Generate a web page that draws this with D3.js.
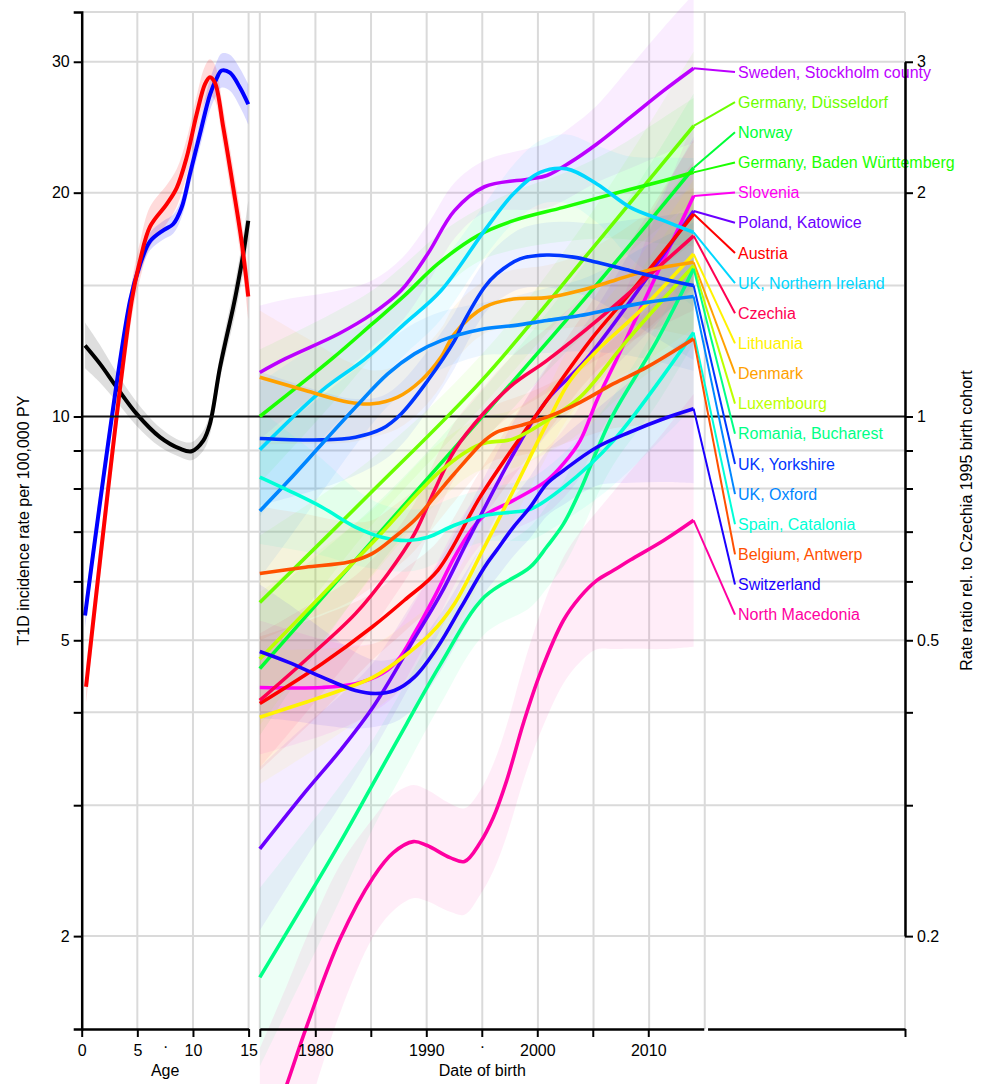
<!DOCTYPE html>
<html>
<head>
<meta charset="utf-8">
<script src="https://cdn.jsdelivr.net/npm/d3@7"></script>
<style>
  body { margin: 0; background: #fff; }
  text { font-family: "Liberation Sans", Arial, Helvetica, sans-serif; }
</style>
</head>
<body>
<svg id="chart" width="982" height="1084"></svg>
<script>
// ---- age panel: incidence per 100,000 PY by age ----
const ageBlue = [[0.3, 5.40], [4.34, 14.3], [5.24, 16.0], [6.14, 17.2], [7.33, 17.8], [8.23, 18.15], [8.98, 19.1],
  [9.73, 21.2], [10.63, 24.0], [11.53, 27.1], [12.13, 28.5], [12.58, 29.2], [13.32, 29.0], [14.22, 27.7], [14.97, 26.3]];
const ageRed = [[0.39, 4.33], [4.49, 14.3], [5.24, 16.2], [6.14, 18.0], [7.64, 19.3], [8.54, 20.3], [9.43, 22.3],
  [10.33, 25.5], [11.08, 28.0], [11.53, 28.6], [11.98, 28.1], [12.72, 24.5], [13.62, 20.3], [14.37, 17.2], [14.97, 14.5]];
const ageBlack = [[0.3, 12.46], [1.65, 11.77], [3.14, 10.95], [4.94, 10.08], [7.03, 9.38], [8.83, 9.05], [9.88, 8.98],
  [10.93, 9.28], [11.53, 9.78], [12.43, 11.64], [13.62, 14.03], [13.92, 14.77], [14.52, 16.55], [14.97, 18.34]];
// CI half widths (log10) at these ages
const ageCiKnots = [0, 3, 6, 9, 12, 15];
const ageCiBlue = [0.02, 0.012, 0.012, 0.013, 0.022, 0.027];
const ageCiRed = [0.025, 0.02, 0.027, 0.025, 0.024, 0.03];
const ageCiBlack = [0.032, 0.02, 0.014, 0.011, 0.015, 0.027];

// ---- birth cohort panel: incidence by date of birth ----
const sweden = [[1975, 11.46], [1977.3, 11.96], [1982.1, 12.92], [1985.1, 13.74], [1987.7, 14.77], [1990.1, 16.55], [1992.5, 18.92],
  [1995.2, 20.37], [1999.3, 20.87], [2000.8, 21.09], [2002.9, 21.97], [2005.3, 23.26], [2008.3, 25.25], [2011.3, 27.43], [2014, 29.4]];
const dusseldorf = [[1975, 5.62], [1985, 7.9], [1995, 11.2], [2005, 16.9], [2014, 24.6]];
const norway = [[1975, 4.58], [1985, 6.77], [1995, 10.0], [2005, 14.87], [2014, 21.6]];
const badenWurttemberg = [[1975, 10.0], [1981.5, 11.96], [1985.1, 13.32], [1988.0, 14.54], [1991.0, 16.04], [1994.6, 17.51],
  [1997.8, 18.34], [2002.3, 19.11], [2006.8, 19.93], [2011.3, 20.76], [2014, 21.3]];
const slovenia = [[1975, 4.32], [1980.6, 4.32], [1983.6, 4.37], [1986.0, 4.51], [1987.4, 4.70], [1988.9, 5.11], [1990.7, 5.72],
  [1992.5, 6.47], [1994.0, 7.03], [1995.2, 7.36], [1997.8, 7.71], [2000.8, 8.20], [2002.3, 8.64], [2003.8, 9.28], [2005.3, 10.51],
  [2007.1, 11.96], [2014, 19.8]];
const poland = [[1975, 2.62], [1979.2, 3.14], [1982.2, 3.55], [1985.2, 4.07], [1988.8, 5.0], [1991.3, 5.78], [1993.7, 6.81],
  [1997.8, 8.91], [2000.8, 10.51], [2004.4, 11.96], [2014, 18.9]];
const austria = [[1975, 4.11], [1980.6, 4.65], [1985.1, 5.21], [1988.0, 5.66], [1991.0, 6.21], [1994.8, 7.79], [1997.8, 9.09],
  [2000.8, 10.51], [2004.7, 12.65], [2008.3, 14.66], [2014, 18.72]];
const ukNorthernIreland = [[1975, 9.02], [1980.6, 10.84], [1984.5, 11.96], [1988.0, 13.32], [1991.3, 14.77], [1995.2, 17.78],
  [1997.8, 19.93], [2000.2, 21.3], [2002.6, 21.53], [2005.3, 20.55], [2008.3, 19.11], [2011.3, 18.34], [2014, 17.69]];
const czechia = [[1975, 4.15], [1979.1, 4.70], [1983.6, 5.43], [1986.5, 6.14], [1988.9, 6.95], [1990.7, 7.95], [1992.5, 9.0],
  [1995.2, 10.13], [1997.8, 11.06], [2000.8, 11.89], [2005.6, 13.57], [2014, 17.5]];
const lithuania = [[1975, 3.94], [1979.2, 4.13], [1982.2, 4.28], [1985.2, 4.46], [1988.3, 4.80], [1990.4, 5.11], [1992.5, 5.60],
  [1995.2, 6.68], [1997.8, 7.95], [2000.8, 9.78], [2002.9, 11.18], [2005.3, 12.26], [2009.2, 13.88], [2014, 16.54]];
const denmark = [[1975, 11.29], [1979.1, 10.84], [1983.0, 10.45], [1985.1, 10.40], [1987.4, 10.62], [1989.5, 11.18], [1991.3, 12.02],
  [1992.5, 12.92], [1995.2, 14.03], [1997.8, 14.39], [2000.8, 14.45], [2003.8, 14.77], [2006.8, 15.23], [2009.8, 15.71], [2014, 16.12]];
const luxembourg = [[1975, 4.72], [1985, 6.73], [1991.3, 8.46], [1994.8, 9.17], [1997.8, 9.33], [2000.8, 9.88], [2003.8, 10.62],
  [2008.0, 12.65], [2014, 15.95]];
const romania = [[1975, 1.76], [1979.2, 2.24], [1982.2, 2.67], [1985.2, 3.21], [1988.2, 3.86], [1991.2, 4.63], [1995.2, 5.72],
  [1999.3, 6.27], [2000.8, 6.68], [2002.3, 7.17], [2003.8, 7.95], [2005.3, 9.0], [2006.8, 10.08], [2010.7, 12.65], [2014, 15.8]];
const ukYorkshire = [[1975, 9.34], [1980.6, 9.30], [1983.6, 9.38], [1986.0, 9.63], [1987.7, 10.08], [1990.1, 11.18], [1992.5, 12.65],
  [1993.4, 13.46], [1995.2, 14.92], [1996.3, 15.55], [1998.4, 16.29], [2000.8, 16.49], [2003.2, 16.38], [2005.3, 16.12], [2008.3, 15.71],
  [2011.3, 15.31], [2014, 15.0]];
const ukOxford = [[1975, 7.46], [1977.6, 8.20], [1980.6, 9.19], [1983.6, 10.29], [1986.5, 11.41], [1988.9, 12.14], [1991.3, 12.65],
  [1995.2, 13.12], [1997.8, 13.25], [2000.8, 13.46], [2003.8, 13.67], [2006.8, 13.96], [2009.8, 14.24], [2014, 14.5]];
const spain = [[1975, 8.29], [1977.6, 7.95], [1980.6, 7.55], [1983.6, 7.10], [1986.0, 6.88], [1988.3, 6.81], [1990.1, 6.88],
  [1992.5, 7.14], [1995.2, 7.36], [1997.8, 7.44], [1999.3, 7.5], [2002.3, 8.03], [2006.8, 9.28], [2014, 12.97]];
const belgium = [[1975, 6.15], [1979.1, 6.27], [1983.0, 6.37], [1985.1, 6.54], [1987.1, 6.88], [1988.9, 7.25], [1990.7, 7.79],
  [1992.5, 8.38], [1995.2, 9.28], [1996.3, 9.53], [1998.4, 9.72], [2000.8, 9.98], [2003.8, 10.45], [2006.8, 11.07], [2009.8, 11.65], [2014, 12.72]];
const switzerland = [[1975, 4.83], [1977.6, 4.67], [1980.6, 4.46], [1983.6, 4.28], [1985.4, 4.24], [1987.1, 4.28], [1988.9, 4.46],
  [1991.0, 4.90], [1993.1, 5.54], [1995.2, 6.27], [1996.3, 6.61], [1997.8, 7.10], [1999.3, 7.55], [2000.8, 8.12], [2002.3, 8.46],
  [2005.3, 9.09], [2008.3, 9.53], [2011.3, 9.93], [2014, 10.24]];
const northMacedonia = [[1975, 1.0], [1977.4, 1.26], [1979.2, 1.51], [1982.2, 1.98], [1985.2, 2.40], [1987, 2.59], [1988.8, 2.68],
  [1990, 2.65], [1992.1, 2.55], [1993.4, 2.52], [1994.8, 2.67], [1996, 2.89], [1997.2, 3.24], [1998.7, 3.87], [2000.2, 4.51],
  [2002.3, 5.32], [2003.8, 5.72], [2005.3, 6.02], [2006.8, 6.21], [2008.3, 6.41], [2011.3, 6.81], [2014, 7.25]];

// legend order (top to bottom) and series
const countryNames = ["Sweden, Stockholm county", "Germany, Düsseldorf", "Norway", "Germany, Baden Württemberg", "Slovenia",
  "Poland, Katowice", "Austria", "UK, Northern Ireland", "Czechia", "Lithuania", "Denmark", "Luxembourg", "Romania, Bucharest",
  "UK, Yorkshire", "UK, Oxford", "Spain, Catalonia", "Belgium, Antwerp", "Switzerland", "North Macedonia"];
const countrySeries = [sweden, dusseldorf, norway, badenWurttemberg, slovenia, poland, austria, ukNorthernIreland, czechia,
  lithuania, denmark, luxembourg, romania, ukYorkshire, ukOxford, spain, belgium, switzerland, northMacedonia];
const countryColors = ["#bc00ff", "#6bff00", "#00ff36", "#1bff00", "#ff00f2", "#6b00ff", "#ff0000", "#00d7ff", "#ff0051",
  "#fff200", "#ffa100", "#bcff00", "#00ff86", "#0036ff", "#0086ff", "#00ffd7", "#ff5000", "#1b00ff", "#ff00a1"];

// CI half widths (log10) at these birth years
const cohortCiKnots = [1975, 1985, 1995, 2005, 2014];
const cohortCiDefault = [0.09, 0.045, 0.035, 0.05, 0.1];
const cohortCiWide = {
  "North Macedonia": [0.15, 0.08, 0.07, 0.09, 0.17],
  "Romania, Bucharest": [0.12, 0.06, 0.05, 0.06, 0.1],
  "Poland, Katowice": [0.11, 0.06, 0.04, 0.05, 0.1]
};

const rateGrid = [2, 3, 4, 5, 6, 7, 8, 9, 15, 20, 30, 35];
const rateTicks = [2, 3, 4, 5, 6, 7, 8, 9, 10, 20, 30];
const rateLabels = [2, 5, 10, 20, 30];
const ratioTicks = [0.2, 0.3, 0.4, 0.5, 0.6, 0.7, 0.8, 0.9, 1, 2, 3];
const ratioLabels = [0.2, 0.5, 1, 2, 3];
const ageTicks = [0, 5, 7.5, 10, 15];
const yearTicks = [1975, 1980, 1985, 1990, 1995, 2000, 2005, 2010];
const yearLabels = { 1980: "1980", 1990: "1990", 1995: "·", 2000: "2000", 2010: "2010" };

// ---- scales ----
const ageX = d3.scaleLinear([0, 15], [81.7, 248.6]);
const yearX = d3.scaleLinear([1975, 2033], [259.8, 905]);
const y = d3.scaleLog([1.5, 35], [1029, 12]);
const ratioY = d3.scaleLog([0.2, 3], [y(2), y(30)]);

const svg = d3.select("#chart");
const grey = "#dadada";

// grid
const grid = svg.append("g");
grid.selectAll("line.h").data(rateGrid).join("line")
  .attr("x1", ageX(0)).attr("x2", yearX(2033))
  .attr("y1", d => y(d)).attr("y2", d => y(d))
  .attr("stroke", grey).attr("stroke-width", 2);
grid.selectAll("line.va").data([5, 10, 15]).join("line")
  .attr("x1", d => ageX(d)).attr("x2", d => ageX(d))
  .attr("y1", y(35)).attr("y2", y(1.5))
  .attr("stroke", grey).attr("stroke-width", 2);
grid.selectAll("line.vy").data(d3.range(1975, 2016, 5).concat([2033])).join("line")
  .attr("x1", d => yearX(d)).attr("x2", d => yearX(d))
  .attr("y1", y(35)).attr("y2", y(1.5))
  .attr("stroke", grey).attr("stroke-width", 2);

const curve = d3.curveCatmullRom.alpha(0.5);

function bandFor(data, xs, knots, widths) {
  const hw = d3.scaleLinear(knots, widths).clamp(true);
  return d3.area()
    .curve(curve)
    .x(d => xs(d[0]))
    .y0(d => y(d[1] * Math.pow(10, -hw(d[0]))))
    .y1(d => y(d[1] * Math.pow(10, hw(d[0]))))(data);
}

// age panel bands and lines
const ageSets = [
  { data: ageBlack, ci: ageCiBlack, color: "#000000", op: 0.13 },
  { data: ageBlue, ci: ageCiBlue, color: "#0000ff", op: 0.15 },
  { data: ageRed, ci: ageCiRed, color: "#ff0000", op: 0.14 }
];
const ageG = svg.append("g");
ageSets.forEach(s => {
  ageG.append("path").attr("d", bandFor(s.data, ageX, ageCiKnots, s.ci))
    .attr("fill", s.color).attr("fill-opacity", s.op).attr("stroke", "none");
});

// cohort bands
const bandG = svg.append("g");
countrySeries.forEach((s, i) => {
  const ci = cohortCiWide[countryNames[i]] || cohortCiDefault;
  bandG.append("path").attr("d", bandFor(s, yearX, cohortCiKnots, ci))
    .attr("fill", countryColors[i]).attr("fill-opacity", 0.07).attr("stroke", "none");
});

// reference line at rate 10 (ratio 1)
svg.append("line")
  .attr("x1", ageX(0)).attr("x2", yearX(2033))
  .attr("y1", y(10)).attr("y2", y(10))
  .attr("stroke", "#111").attr("stroke-width", 2);

// lines
ageSets.forEach(s => {
  ageG.append("path")
    .attr("d", d3.line().curve(curve).x(d => ageX(d[0])).y(d => y(d[1]))(s.data))
    .attr("fill", "none").attr("stroke", s.color).attr("stroke-width", 4);
});

const lineG = svg.append("g");
const labelY = i => 72 + i * 30.15;
countrySeries.forEach((s, i) => {
  lineG.append("path")
    .attr("d", d3.line().curve(curve).x(d => yearX(d[0])).y(d => y(d[1]))(s))
    .attr("fill", "none").attr("stroke", countryColors[i]).attr("stroke-width", 3.6);
  const last = s[s.length - 1];
  lineG.append("line")
    .attr("x1", yearX(last[0])).attr("y1", y(last[1]))
    .attr("x2", 735).attr("y2", labelY(i))
    .attr("stroke", countryColors[i]).attr("stroke-width", 2);
  lineG.append("text")
    .attr("x", 738).attr("y", labelY(i)).attr("dy", "0.35em")
    .attr("font-size", 16).attr("fill", countryColors[i])
    .text(countryNames[i]);
});

// ---- axes ----
function styleAxis(g) {
  g.selectAll(".domain").attr("stroke", "#000").attr("stroke-width", 2.5);
  g.selectAll(".tick line").attr("stroke", "#000").attr("stroke-width", 2);
  g.selectAll("text").attr("font-size", 16).attr("fill", "#000")
    .attr("font-family", "'Liberation Sans', Arial, sans-serif");
}

svg.append("g")
  .attr("transform", `translate(${ageX(0)},0)`)
  .call(d3.axisLeft(y).tickValues(rateTicks).tickSize(8).tickSizeOuter(8).tickPadding(4)
    .tickFormat(d => rateLabels.includes(d) ? d : ""))
  .call(styleAxis);

svg.append("g")
  .attr("transform", `translate(${yearX(2033)},0)`)
  .call(d3.axisRight(ratioY).tickValues(ratioTicks).tickSize(8).tickSizeOuter(0).tickPadding(4)
    .tickFormat(d => ratioLabels.includes(d) ? d : ""))
  .call(styleAxis);

const ageAxis = svg.append("g")
  .attr("transform", `translate(0,${y(1.5)})`)
  .call(d3.axisBottom(ageX).tickValues(ageTicks).tickSize(8).tickSizeOuter(0).tickPadding(8)
    .tickFormat(d => d === 7.5 ? "·" : d))
  .call(styleAxis);
ageAxis.selectAll(".tick").filter(d => d === 7.5).select("line").remove();
ageAxis.selectAll(".tick").filter(d => d === 7.5).select("text").attr("y", 12);

const yearAxis = svg.append("g")
  .attr("transform", `translate(0,${y(1.5)})`)
  .call(d3.axisBottom(d3.scaleLinear([1975, 2015], [yearX(1975), yearX(2015) - 1]))
    .tickValues(yearTicks).tickSize(8).tickSizeOuter(0).tickPadding(8)
    .tickFormat(d => yearLabels[d] || ""))
  .call(styleAxis);
yearAxis.selectAll(".tick").filter(d => d === 1995).select("text").attr("y", 12);

svg.append("g")
  .attr("transform", `translate(0,${y(1.5)})`)
  .call(d3.axisBottom(d3.scaleLinear([2015.25, 2033], [yearX(2015.25), yearX(2033)]))
    .tickValues([2033]).tickSize(8).tickSizeOuter(0).tickFormat(""))
  .call(styleAxis);

// axis titles
svg.append("text").attr("x", ageX(7.5)).attr("y", 1076).attr("text-anchor", "middle")
  .attr("font-size", 16).text("Age");
svg.append("text").attr("x", yearX(1995)).attr("y", 1076).attr("text-anchor", "middle")
  .attr("font-size", 16).text("Date of birth");
svg.append("text").attr("transform", `translate(29,${(y(1.5) + y(35)) / 2}) rotate(-90)`)
  .attr("text-anchor", "middle").attr("font-size", 16).text("T1D incidence rate per 100,000 PY");
svg.append("text").attr("transform", `translate(972,${(y(1.5) + y(35)) / 2}) rotate(-90)`)
  .attr("text-anchor", "middle").attr("font-size", 16).text("Rate ratio rel. to Czechia 1995 birth cohort");
</script>
</body>
</html>
